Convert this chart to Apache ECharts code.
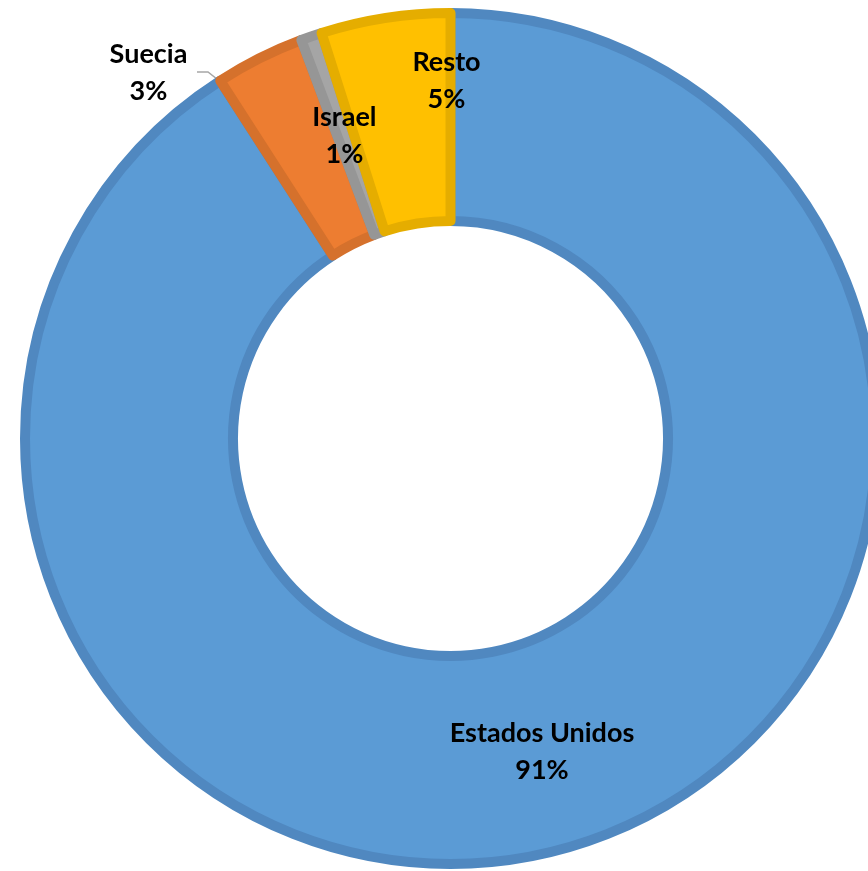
<!DOCTYPE html>
<html>
<head>
<meta charset="utf-8">
<script src="https://cdn.jsdelivr.net/npm/echarts@6/dist/echarts.min.js"></script>
<style>
html,body{margin:0;padding:0;background:#fff;}
#chart{width:868px;height:871px;}
</style>
</head>
<body>
<div id="chart"></div>
<script>
// Data
const categories = ['Estados Unidos', 'Suecia', 'Israel', 'Resto'];
const shares = [90.9, 3.4, 0.8, 4.9];

// Styles
const fillColors = ['#5B9BD5', '#ED7D31', '#A5A5A5', '#FFC000'];
const borderColors = ['#5088C0', '#D5712C', '#969696', '#E5AD00'];

const chart = echarts.init(document.getElementById('chart'), null, {renderer: 'canvas'});

const seriesData = categories.map((name, i) => {
  const item = {
    name: name,
    value: shares[i],
    itemStyle: {color: fillColors[i], borderColor: borderColors[i]}
  };
  if (name === 'Suecia') {
    item.label = {position: 'outside'};
    item.labelLine = {show: true, lineStyle: {color: '#A6A6A6', width: 1.5}};
  }
  return item;
});

chart.setOption({
  animation: false,
  series: [{
    type: 'pie',
    center: [450.5, 438.5],
    radius: [217.5, 425.5],
    startAngle: 90,
    clockwise: true,
    avoidLabelOverlap: false,
    percentPrecision: 0,
    itemStyle: {borderWidth: 10},
    emphasis: {disabled: true},
    label: {
      show: true,
      position: 'inside',
      formatter: '{b}\n{d}%',
      fontFamily: 'Lato',
      fontWeight: 'bold',
      fontSize: 27,
      lineHeight: 37,
      color: '#000',
      align: 'center'
    },
    labelLine: {show: false},
    labelLayout: function (p) {
      const name = categories[p.dataIndex];
      if (name === 'Resto') {
        return {x: 446.5, y: 80.5, align: 'center', verticalAlign: 'middle'};
      }
      if (name === 'Suecia') {
        return {
          x: 148.5, y: 72.5, align: 'center', verticalAlign: 'middle',
          labelLinePoints: [[306.7, 150], [208, 72], [197, 72]]
        };
      }
      if (name === 'Israel') {
        return {dy: 4};
      }
      return {dy: 2};
    },
    data: seriesData
  }]
});
</script>
</body>
</html>
